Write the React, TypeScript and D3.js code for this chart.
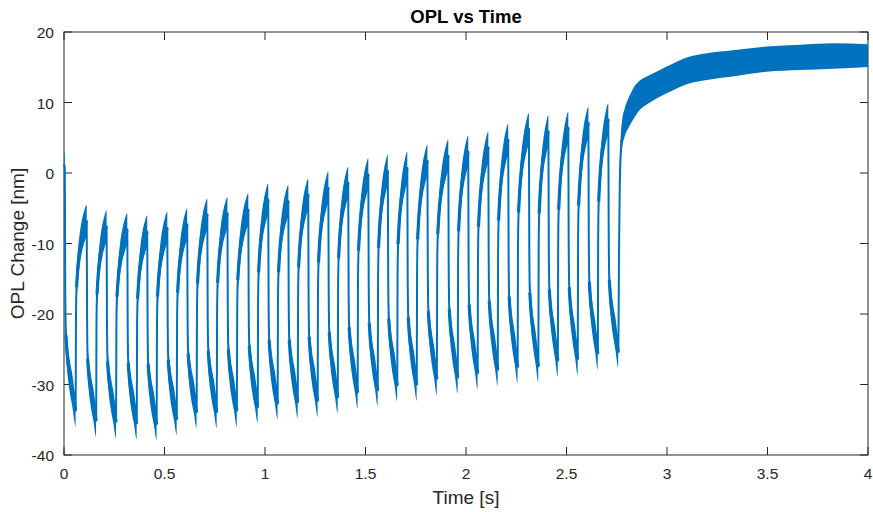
import React from 'react';
import * as d3 from 'd3';

// ---------- data ----------
const xTicks = [0, 0.5, 1, 1.5, 2, 2.5, 3, 3.5, 4];
const xTickLabels = ['0', '0.5', '1', '1.5', '2', '2.5', '3', '3.5', '4'];
const yTicks = [-40, -30, -20, -10, 0, 10, 20];
const yTickLabels = ['-40', '-30', '-20', '-10', '0', '10', '20'];

// initial segment before the first pulse
const startTimes = [0, 0.002, 0.004];
const startValues = [1.3, 1.0, 0.8];
const startNoise = 1.8;

// times of the sharp drops (pulse peaks), seconds
const peakTimes = [0.113, 0.212, 0.315, 0.414, 0.514, 0.613, 0.713, 0.813, 0.917, 1.016, 1.116, 1.215, 1.315, 1.414,
  1.514, 1.611, 1.708, 1.808, 1.912, 2.011, 2.111, 2.21, 2.313, 2.41, 2.509, 2.609, 2.708];
// upper edge of the noisy band at each peak, nm
const peakTops = [-4.5, -5.3, -5.7, -6.0, -5.5, -5.0, -3.6, -3.4, -2.9, -1.5, -1.7, -0.8, 0.2, 0.9, 2.1, 2.6, 3.0,
  4.0, 4.7, 5.3, 5.9, 7.0, 8.5, 8.2, 8.7, 9.4, 9.9];
// times of the sharp rises (end of each low phase), seconds
const riseTimes = [0.058, 0.16, 0.259, 0.362, 0.461, 0.561, 0.66, 0.76, 0.86, 0.964, 1.063, 1.163, 1.262, 1.362,
  1.461, 1.561, 1.658, 1.755, 1.855, 1.959, 2.058, 2.158, 2.257, 2.36, 2.457, 2.556, 2.656, 2.758];
// lower edge of the noisy band at each trough, nm
const troughBottoms = [-36.0, -37.4, -37.6, -37.8, -37.9, -37.2, -36.2, -36.2, -36.0, -35.5, -35.0, -34.8, -34.6,
  -34.1, -33.4, -33.1, -32.4, -32.3, -31.5, -31.3, -30.7, -30.2, -29.8, -29.7, -28.9, -28.7, -27.9, -27.7];
const pulseNoise = 2.3;

// shape of a falling phase (fraction of phase time -> fraction of peak-to-trough travel)
const fallShapeS = [0, 0.04, 0.1, 0.2, 0.4, 0.7, 1];
const fallShapeF = [0, 0.5, 0.69, 0.76, 0.84, 0.92, 1];
// shape of a rising phase
const riseShapeS = [0, 0.03, 0.08, 0.18, 0.35, 0.55, 0.78, 1];
const riseShapeF = [0, 0.5, 0.65, 0.74, 0.84, 0.915, 0.97, 1];
// from which shape index the phase shows as a thick noisy band
const fallThickFrom = 2;
const riseThickFrom = 2;

// final relaxation after the last pulse
const tailTimes = [2.761, 2.765, 2.77, 2.777, 2.79, 2.81, 2.832, 2.86, 2.899, 2.95, 2.998, 3.098, 3.198, 3.328,
  3.496, 3.662, 3.826, 4.0];
const tailValues = [-12, -2, 3, 5.5, 7.2, 8.6, 9.8, 10.9, 11.7, 12.5, 13.2, 14.5, 15.1, 15.55, 16.15, 16.4, 16.6,
  16.65];
const tailNoise = [2.0, 2.0, 2.0, 2.0, 2.0, 2.1, 2.2, 2.1, 2.0, 1.9, 1.9, 1.9, 1.9, 1.85, 1.8, 1.8, 1.8, 1.6];

// ---------- layout ----------
const W = 873;
const H = 512;
const PL = 64, PR = 868, PT = 32, PB = 455;
const BLUE = '#0072BD';
const AX = '#262626';
const FONT = '"Liberation Sans", Arial, Helvetica, sans-serif';

type P = { t: number; v: number; h: number; thick: boolean };

function buildSeries(): P[] {
  const pts: P[] = [];
  startTimes.forEach((t, i) => pts.push({ t, v: startValues[i], h: startNoise, thick: false }));
  const phase = (t0: number, t1: number, v0: number, v1: number, S: number[], F: number[], h: number,
    thickFrom: number) => {
    for (let i = 1; i < S.length; i++) {
      pts.push({ t: t0 + (t1 - t0) * S[i], v: v0 + (v1 - v0) * F[i], h, thick: i >= thickFrom });
    }
  };
  const troughC = troughBottoms.map((b) => b + pulseNoise);
  const peakC = peakTops.map((p) => p - pulseNoise);
  phase(startTimes[startTimes.length - 1], riseTimes[0], startValues[startValues.length - 1], troughC[0],
    fallShapeS, fallShapeF, pulseNoise, fallThickFrom);
  for (let k = 0; k < peakTimes.length; k++) {
    phase(riseTimes[k], peakTimes[k], troughC[k], peakC[k], riseShapeS, riseShapeF, pulseNoise, riseThickFrom);
    phase(peakTimes[k], riseTimes[k + 1], peakC[k], troughC[k + 1], fallShapeS, fallShapeF, pulseNoise,
      fallThickFrom);
  }
  tailTimes.forEach((t, i) => pts.push({ t, v: tailValues[i], h: tailNoise[i], thick: false }));
  return pts;
}

export default function App() {
  const x = d3.scaleLinear().domain([0, 4]).range([PL, PR]);
  const y = d3.scaleLinear().domain([-40, 20]).range([PB, PT]);
  const series = buildSeries();

  const area = d3
    .area<P>()
    .x((d) => x(d.t))
    .y0((d) => y(d.v - d.h))
    .y1((d) => y(d.v + d.h))
    .curve(d3.curveMonotoneX);
  const line = d3
    .line<P>()
    .x((d) => x(d.t))
    .y((d) => y(d.v))
    .curve(d3.curveMonotoneX);
  const thickLine = d3
    .line<P>()
    .defined((d) => d.thick)
    .x((d) => x(d.t))
    .y((d) => y(d.v))
    .curve(d3.curveMonotoneX);

  const tickLen = 8;

  return (
    <svg width={W} height={H} style={{ position: 'absolute', left: 0, top: 0, background: '#fff' }}>
      <rect x={0} y={0} width={W} height={H} fill="#fff" />
      <defs>
        <clipPath id="plotClip">
          <rect x={PL - 2} y={PT} width={PR - PL + 2} height={PB - PT} />
        </clipPath>
      </defs>

      <rect x={PL} y={PT} width={PR - PL} height={PB - PT} fill="none" stroke={AX} strokeWidth={1} />

      {xTicks.map((t, i) => (
        <g key={'xt' + i}>
          <line x1={x(t)} x2={x(t)} y1={PB} y2={PB - tickLen} stroke={AX} strokeWidth={1} />
          <line x1={x(t)} x2={x(t)} y1={PT} y2={PT + tickLen} stroke={AX} strokeWidth={1} />
          <text x={x(t)} y={479} textAnchor="middle" fontFamily={FONT} fontSize={15.5} fill={AX}>
            {xTickLabels[i]}
          </text>
        </g>
      ))}

      {yTicks.map((v, i) => (
        <g key={'yt' + i}>
          <line x1={PL} x2={PL + tickLen} y1={y(v)} y2={y(v)} stroke={AX} strokeWidth={1} />
          <line x1={PR} x2={PR - tickLen} y1={y(v)} y2={y(v)} stroke={AX} strokeWidth={1} />
          <text x={54} y={y(v) + 6} textAnchor="end" fontFamily={FONT} fontSize={15.5} fill={AX}>
            {yTickLabels[i]}
          </text>
        </g>
      ))}

      <g clipPath="url(#plotClip)">
        <path d={area(series) || ''} fill={BLUE} stroke="none" />
        <path d={line(series) || ''} fill="none" stroke={BLUE} strokeWidth={2} />
        <path d={thickLine(series) || ''} fill="none" stroke={BLUE} strokeWidth={3.2} strokeLinecap="butt" />
      </g>

      <text x={(PL + PR) / 2} y={23} textAnchor="middle" fontFamily={FONT} fontSize={18.5} fontWeight="bold" fill="#000">
        OPL vs Time
      </text>
      <text x={(PL + PR) / 2} y={504} textAnchor="middle" fontFamily={FONT} fontSize={19} fill={AX}>
        Time [s]
      </text>
      <text
        transform={`translate(24, ${(PT + PB) / 2}) rotate(-90)`}
        textAnchor="middle"
        fontFamily={FONT}
        fontSize={19}
        fill={AX}
      >
        OPL Change [nm]
      </text>
    </svg>
  );
}
